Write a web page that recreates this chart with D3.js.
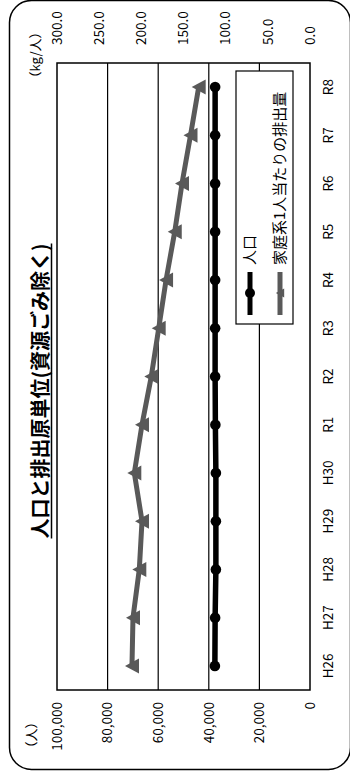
<!DOCTYPE html>
<html>
<head>
<meta charset="utf-8">
<script src="https://cdn.jsdelivr.net/npm/d3@7"></script>
<style>
  html, body { margin: 0; padding: 0; background: #fff; }
  svg { display: block; }
  text { font-family: "Noto Sans CJK JP", "Noto Sans", sans-serif; fill: #000; }
</style>
</head>
<body>
<svg id="chart" width="350" height="774"></svg>
<script>
// ---- data ----
const categories = ["H26","H27","H28","H29","H30","R1","R2","R3","R4","R5","R6","R7","R8"];
const population = [37600, 37500, 37200, 37200, 37200, 37400, 37500, 37500, 37500, 37500, 37500, 37500, 37500];
const perCapita  = [211.1, 209.9, 202.4, 199.2, 208.3, 199.2, 188.2, 179.4, 170.7, 160.4, 151.8, 141.7, 132.0];
const popTicks = [0, 20000, 40000, 60000, 80000, 100000];
const kgTicks  = [0, 50, 100, 150, 200, 250, 300];
const title = "人口と排出原単位(資源ごみ除く)";
const seriesNames = ["人口", "家庭系1人当たりの排出量"];
const popUnit = "（人）";
const kgUnit = "（kg/人）";

// ---- layout (chart is drawn in 774x350 space, then rotated -90deg) ----
const W = 774, H = 350;
const svg = d3.select("#chart");

// outer rounded frame (page coords)
svg.append("rect")
  .attr("x", 9.5).attr("y", 0.5).attr("width", 341).attr("height", 769)
  .attr("rx", 22).attr("ry", 22)
  .attr("fill", "none").attr("stroke", "#000").attr("stroke-width", 1.5);

const g = svg.append("g").attr("transform", `translate(0,${W}) rotate(-90)`);

const plot = { left: 84, right: 711, top: 57, bottom: 310 };

const x = d3.scaleBand().domain(categories).range([plot.left, plot.right]);
const yPop = d3.scaleLinear().domain([0, 100000]).range([plot.bottom, plot.top]);
const yKg  = d3.scaleLinear().domain([0, 300]).range([plot.bottom, plot.top]);

// gridlines
g.append("g").selectAll("line")
  .data(popTicks.filter(d => d > 0 && d < 100000))
  .join("line")
  .attr("x1", plot.left).attr("x2", plot.right)
  .attr("y1", d => yPop(d)).attr("y2", d => yPop(d))
  .attr("stroke", "#000").attr("stroke-width", 1.2);

// plot frame
g.append("rect")
  .attr("x", plot.left).attr("y", plot.top)
  .attr("width", plot.right - plot.left).attr("height", plot.bottom - plot.top)
  .attr("fill", "none").attr("stroke", "#000").attr("stroke-width", 1.5);

// left axis (population)
const axL = g.append("g").attr("transform", `translate(${plot.left - 12},0)`)
  .call(d3.axisLeft(yPop).tickValues(popTicks).tickFormat(d3.format(",")).tickSize(0).tickPadding(0));
axL.select(".domain").remove();
axL.selectAll("text").attr("font-size", 13.5).style("font-family", '"Noto Sans CJK JP", sans-serif');

// right axis (kg)
const axR = g.append("g").attr("transform", `translate(${plot.right + 18},0)`)
  .call(d3.axisRight(yKg).tickValues(kgTicks).tickFormat(d3.format(".1f")).tickSize(0).tickPadding(0));
axR.select(".domain").remove();
axR.selectAll("text").attr("font-size", 13.5).style("font-family", '"Noto Sans CJK JP", sans-serif');

// bottom axis (categories)
const axB = g.append("g").attr("transform", `translate(0,${plot.bottom + 10})`)
  .call(d3.axisBottom(x).tickSize(0).tickPadding(0));
axB.select(".domain").remove();
axB.selectAll("text").attr("font-size", 13.5).attr("dy", "0.95em").style("font-family", '"Noto Sans CJK JP", sans-serif');

// units
g.append("text").attr("x", 39).attr("y", 36).attr("text-anchor", "middle")
  .attr("font-size", 13).text(popUnit);
g.append("text").attr("x", 719).attr("y", 40).attr("text-anchor", "middle")
  .attr("font-size", 13).text(kgUnit);

// title
const t = g.append("text").attr("x", 383).attr("y", 48).attr("text-anchor", "middle")
  .attr("font-size", 20).attr("font-weight", "bold").text(title);
const tl = t.node().getComputedTextLength();
g.append("line").attr("x1", 383 - tl / 2).attr("x2", 383 + tl / 2)
  .attr("y1", 51.5).attr("y2", 51.5).attr("stroke", "#000").attr("stroke-width", 1.5);

// series
const gray = "#595959";
const tri = "M0,-7 L7.5,7 L-7.5,7 Z";
const cx = d => x(d) + x.bandwidth() / 2;

const kgLine = d3.line().x((d, i) => cx(categories[i])).y(d => yKg(d));
g.append("path").datum(perCapita).attr("d", kgLine)
  .attr("fill", "none").attr("stroke", gray).attr("stroke-width", 5);
g.append("g").selectAll("path").data(perCapita).join("path")
  .attr("d", tri)
  .attr("transform", (d, i) => `translate(${cx(categories[i])},${yKg(d)})`)
  .attr("fill", gray);

const popLine = d3.line().x((d, i) => cx(categories[i])).y(d => yPop(d));
g.append("path").datum(population).attr("d", popLine)
  .attr("fill", "none").attr("stroke", "#000").attr("stroke-width", 5.5);
g.append("g").selectAll("circle").data(population).join("circle")
  .attr("cx", (d, i) => cx(categories[i])).attr("cy", d => yPop(d)).attr("r", 5.3)
  .attr("fill", "#000");

// legend
const lg = g.append("g");
lg.append("rect").attr("x", 450).attr("y", 236).attr("width", 253).attr("height", 57)
  .attr("fill", "#fff").attr("stroke", "#000").attr("stroke-width", 1.2);
const rows = [
  { name: seriesNames[0], color: "#000", y: 250, marker: "circle" },
  { name: seriesNames[1], color: gray, y: 280, marker: "tri" }
];
rows.forEach(r => {
  lg.append("line").attr("x1", 459).attr("x2", 502).attr("y1", r.y).attr("y2", r.y)
    .attr("stroke", r.color).attr("stroke-width", 5);
  if (r.marker === "circle") {
    lg.append("circle").attr("cx", 481).attr("cy", r.y).attr("r", 5).attr("fill", r.color);
  } else {
    lg.append("path").attr("d", tri).attr("transform", `translate(481,${r.y}) scale(0.6)`).attr("fill", r.color);
  }
  lg.append("text").attr("x", 509).attr("y", r.y).attr("dy", "0.36em")
    .attr("font-size", 15).text(r.name);
});
</script>
</body>
</html>
